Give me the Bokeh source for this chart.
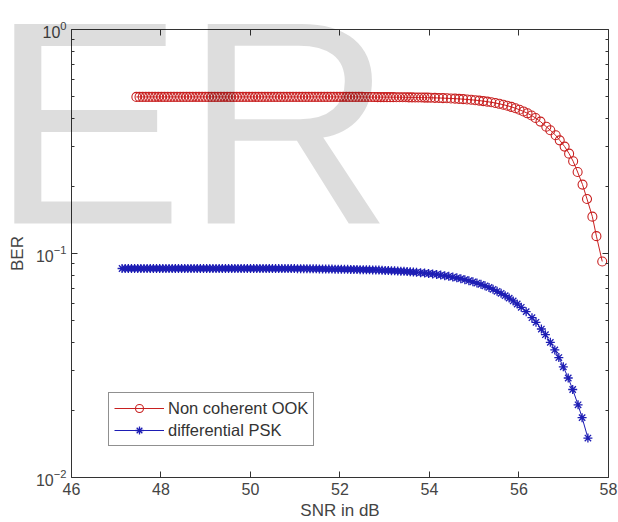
from bokeh.plotting import figure
from bokeh.models import (Label, Legend, LegendItem, FixedTicker, LinearAxis, LogAxis, Range1d)
from bokeh.embed import file_html
from bokeh.resources import INLINE

# ---------------- data ----------------
x_ticks = [46, 48, 50, 52, 54, 56, 58]
y_ticks = [0.01, 0.1, 1.0]
y_minor = [0.02, 0.03, 0.04, 0.05, 0.06, 0.07, 0.08, 0.09,
           0.2, 0.3, 0.4, 0.5, 0.6, 0.7, 0.8, 0.9]

ook_snr_db = [
    47.45, 47.52, 47.59, 47.66, 47.73, 47.80, 47.87, 47.94, 48.01, 48.08,
    48.15, 48.22, 48.29, 48.36, 48.43, 48.50, 48.57, 48.64, 48.71, 48.78,
    48.85, 48.92, 48.99, 49.06, 49.13, 49.20, 49.27, 49.34, 49.41, 49.48,
    49.55, 49.62, 49.69, 49.76, 49.83, 49.90, 49.97, 50.04, 50.11, 50.18,
    50.25, 50.32, 50.39, 50.46, 50.53, 50.60, 50.67, 50.74, 50.81, 50.88,
    50.95, 51.02, 51.09, 51.16, 51.23, 51.30, 51.37, 51.44, 51.51, 51.58,
    51.65, 51.72, 51.79, 51.86, 51.93, 52.00, 52.07, 52.14, 52.21, 52.28,
    52.35, 52.42, 52.49, 52.56, 52.63, 52.70, 52.77, 52.84, 52.91, 52.98,
    53.05, 53.12, 53.19, 53.26, 53.33, 53.40, 53.47, 53.54, 53.61, 53.68,
    53.75, 53.82, 53.89, 53.96, 54.03,
    54.12, 54.21, 54.30, 54.39, 54.48, 54.57, 54.66, 54.75, 54.84, 54.93,
    55.02, 55.11, 55.20, 55.29, 55.38, 55.47, 55.56, 55.65, 55.74, 55.83,
    55.92, 56.01, 56.10, 56.19, 56.28, 56.37,
    56.48, 56.61, 56.70, 56.82, 56.91, 57.02, 57.12, 57.21, 57.31, 57.42,
    57.52, 57.64, 57.73, 57.86,
]
ook_ber = [
    0.5, 0.5, 0.5, 0.5, 0.5, 0.5, 0.5, 0.5, 0.5, 0.5,
    0.5, 0.5, 0.5, 0.5, 0.5, 0.5, 0.5, 0.5, 0.5, 0.5,
    0.5, 0.5, 0.5, 0.5, 0.5, 0.5, 0.5, 0.5, 0.5, 0.5,
    0.5, 0.5, 0.5, 0.5, 0.5, 0.5, 0.5, 0.5, 0.5, 0.5,
    0.5, 0.5, 0.5, 0.5, 0.5, 0.5, 0.5, 0.5, 0.5, 0.5,
    0.5, 0.5, 0.5, 0.5, 0.5, 0.5, 0.5, 0.5, 0.5, 0.5,
    0.5, 0.5, 0.5, 0.5, 0.5, 0.5, 0.5, 0.5, 0.5, 0.5,
    0.5, 0.5, 0.5, 0.4994, 0.4993, 0.4993, 0.4992, 0.4991, 0.4990, 0.4990,
    0.4989, 0.4988, 0.4987, 0.4985, 0.4984, 0.4982, 0.4980, 0.4978, 0.4976, 0.4973,
    0.4971, 0.4968, 0.4965, 0.4961, 0.4957,
    0.4952, 0.4945, 0.4938, 0.4930, 0.4921, 0.4911, 0.4899, 0.4886, 0.4871, 0.4854,
    0.4835, 0.4813, 0.4789, 0.4762, 0.4731, 0.4697, 0.4658, 0.4615, 0.4567, 0.4512,
    0.4451, 0.4383, 0.4307, 0.4224, 0.4130, 0.4027,
    0.388, 0.368, 0.355, 0.337, 0.320, 0.300, 0.279, 0.258, 0.231, 0.203,
    0.175, 0.146, 0.1195, 0.0921,
]

dpsk_snr_db = [
    47.13, 47.20, 47.27, 47.34, 47.41, 47.48, 47.55, 47.62, 47.69, 47.76,
    47.83, 47.90, 47.97, 48.04, 48.11, 48.18, 48.25, 48.32, 48.39, 48.46,
    48.53, 48.60, 48.67, 48.74, 48.81, 48.88, 48.95, 49.02, 49.09, 49.16,
    49.23, 49.30, 49.37, 49.44, 49.51, 49.58, 49.65, 49.72, 49.79, 49.86,
    49.93, 50.00, 50.07, 50.14, 50.21, 50.28, 50.35, 50.42, 50.49, 50.56,
    50.63, 50.70, 50.77, 50.84, 50.91, 50.98, 51.05, 51.12, 51.19, 51.26,
    51.33, 51.40, 51.47, 51.54, 51.61, 51.68, 51.75, 51.82, 51.89, 51.96,
    52.03, 52.10, 52.17, 52.24, 52.31, 52.38, 52.45, 52.52, 52.59, 52.66,
    52.73, 52.80, 52.87, 52.94, 53.01, 53.08, 53.15, 53.22, 53.29, 53.36,
    53.43, 53.50, 53.57, 53.64, 53.71,
    53.80, 53.89, 53.98, 54.07, 54.16, 54.25, 54.34, 54.43, 54.52, 54.61,
    54.70, 54.79, 54.88, 54.97, 55.06, 55.15, 55.24, 55.33, 55.42, 55.51,
    55.60, 55.69, 55.78, 55.87, 55.96, 56.05,
    56.16, 56.29, 56.38, 56.50, 56.59, 56.70, 56.80, 56.89, 56.99, 57.10,
    57.20, 57.32, 57.41, 57.54,
]
dpsk_ber = [
    0.0857, 0.0857, 0.0857, 0.0857, 0.0857, 0.0857, 0.0857, 0.0857, 0.0857, 0.0857,
    0.0857, 0.0857, 0.0857, 0.0857, 0.0857, 0.0857, 0.0857, 0.0857, 0.0857, 0.0857,
    0.0857, 0.0857, 0.0857, 0.0857, 0.0857, 0.0857, 0.0857, 0.0857, 0.0857, 0.0857,
    0.0857, 0.0857, 0.0857, 0.0857, 0.0857, 0.0857, 0.0857, 0.0857, 0.0857, 0.0857,
    0.0857, 0.0857, 0.0857, 0.0857, 0.0857, 0.0857, 0.0857, 0.0857, 0.0857, 0.0856,
    0.0856, 0.0856, 0.0856, 0.0856, 0.0856, 0.0856, 0.0855, 0.0855, 0.0855, 0.0855,
    0.0854, 0.0854, 0.0854, 0.0853, 0.0853, 0.0852, 0.0852, 0.0852, 0.0851, 0.0851,
    0.0851, 0.0850, 0.0850, 0.0849, 0.0849, 0.0848, 0.0847, 0.0847, 0.0846, 0.0845,
    0.0844, 0.0844, 0.0843, 0.0841, 0.0840, 0.0839, 0.0838, 0.0837, 0.0835, 0.0834,
    0.0832, 0.0830, 0.0828, 0.0826, 0.0824,
    0.0821, 0.0818, 0.0814, 0.0810, 0.0806, 0.0801, 0.0796, 0.0791, 0.0785, 0.0779,
    0.0772, 0.0764, 0.0756, 0.0747, 0.0738, 0.0728, 0.0717, 0.0705, 0.0692, 0.0678,
    0.0664, 0.0648, 0.0632, 0.0614, 0.0595, 0.0575,
    0.0550, 0.0517, 0.0493, 0.0460, 0.0434, 0.0401, 0.0371, 0.0343, 0.0312, 0.0278,
    0.0247, 0.0211, 0.0185, 0.0150,
]

series_names = ["Non coherent OOK", "differential PSK"]
x_label = "SNR in dB"
y_label = "BER"
watermark = "ER"
x_bounds = (46, 58)
y_bounds = (0.01, 1.0)

# ---------------- figure ----------------
FONT = "Liberation Sans"
RED = "#c82020"
BLUE = "#1d1db4"
AX = "#333333"
TXT = "#444444"

# the frame fills the whole canvas; the axes box is drawn by fixed-location axes
p = figure(width=618, height=522, y_axis_type="log",
           x_range=Range1d(44.4134, 58.2235), y_range=Range1d(0.0062946, 1.3471),
           output_backend="svg", toolbar_location=None, min_border=0)
p.background_fill_color = "white"
p.border_fill_color = "white"
p.outline_line_color = None
p.xgrid.visible = False
p.ygrid.visible = False

r_line = p.line(ook_snr_db, ook_ber, line_color=RED, line_width=1)
r_mark = p.scatter(ook_snr_db, ook_ber, marker="circle", size=9,
                   line_color=RED, fill_color=None, line_width=1.1)
b_line = p.line(dpsk_snr_db, dpsk_ber, line_color=BLUE, line_width=1)
b_mark = p.scatter(dpsk_snr_db, dpsk_ber, marker="asterisk", size=9,
                   line_color=BLUE, line_width=1.3)

def style(ax, labels=True, minor=False):
    ax.axis_line_color = AX
    ax.major_tick_in = 6
    ax.major_tick_out = 0
    ax.major_tick_line_color = AX
    if minor:
        ax.minor_tick_in = 3
        ax.minor_tick_out = 0
        ax.minor_tick_line_color = AX
    else:
        ax.minor_tick_line_color = None
    if labels:
        ax.major_label_text_font = FONT
        ax.major_label_text_font_size = "16px"
        ax.major_label_text_color = TXT
    else:
        ax.major_label_text_font_size = "2px"
        ax.major_label_text_color = None
        ax.major_label_standoff = 0

xa = p.xaxis[0]
xa.ticker = FixedTicker(ticks=x_ticks)
xa.fixed_location = y_bounds[0]
xa.bounds = x_bounds
style(xa)
xa.major_label_standoff = 6
xa.axis_label = x_label
xa.axis_label_text_font = FONT
xa.axis_label_text_font_size = "17px"
xa.axis_label_text_font_style = "normal"
xa.axis_label_text_color = TXT
xa.axis_label_standoff = 2

ya = p.yaxis[0]
ya.ticker = FixedTicker(ticks=y_ticks, minor_ticks=y_minor)
ya.fixed_location = x_bounds[0]
ya.bounds = y_bounds
style(ya, minor=True)
ya.major_label_standoff = 5
ya.axis_label = y_label
ya.axis_label_text_font = FONT
ya.axis_label_text_font_size = "17px"
ya.axis_label_text_font_style = "normal"
ya.axis_label_text_color = TXT
ya.axis_label_standoff = 6

top = LinearAxis(ticker=FixedTicker(ticks=x_ticks), fixed_location=y_bounds[1], bounds=x_bounds)
style(top, labels=False)
p.add_layout(top, "above")
right = LogAxis(ticker=FixedTicker(ticks=y_ticks, minor_ticks=y_minor),
                fixed_location=x_bounds[1], bounds=y_bounds)
style(right, labels=False, minor=True)
p.add_layout(right, "right")

legend = Legend(items=[LegendItem(label=series_names[0], renderers=[r_line, r_mark]),
                       LegendItem(label=series_names[1], renderers=[b_line, b_mark])],
                location=(108, 76))
legend.label_text_font = FONT
legend.label_text_font_size = "16.5px"
legend.label_text_color = "#333333"
legend.border_line_color = "#222222"
legend.border_line_width = 1
legend.background_fill_color = "white"
legend.background_fill_alpha = 1
legend.glyph_width = 50
legend.glyph_height = 20
legend.label_height = 20
legend.label_standoff = 4
legend.spacing = 2
legend.padding = 5
legend.margin = 0
p.add_layout(legend, "center")

# translucent watermark laid over the whole picture (as in the reference)
p.add_layout(Label(x=-10, y=400, x_units="screen", y_units="screen",
                   text=watermark, text_font=FONT,
                   text_font_size="290px", text_color="black", text_alpha=0.135,
                   text_baseline="alphabetic", text_align="left",
                   level="overlay"))

open("out.html", "w").write(file_html(p, INLINE))
